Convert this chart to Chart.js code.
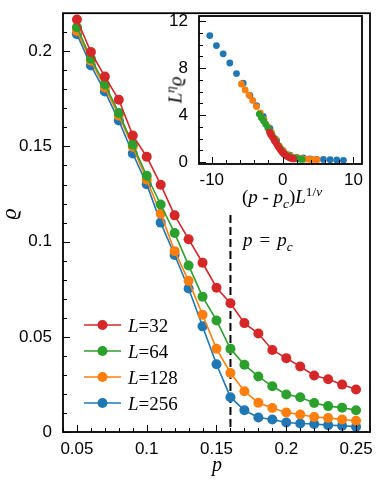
<!DOCTYPE html>
<html>
<head>
<meta charset="utf-8">
<script src="https://cdn.jsdelivr.net/npm/chart.js@4/dist/chart.umd.min.js"></script>
<style>
  html, body { margin: 0; padding: 0; background: #fff; }
  #wrap { position: relative; width: 381px; height: 480px; overflow: hidden; }
  canvas { position: absolute; }
  .lbl {
    position: absolute;
    font-family: "Liberation Serif", serif;
    font-style: italic;
    color: #000;
    white-space: nowrap;
    line-height: 1;
  }
  .lbl .up { font-style: normal; }
  .lbl sub, .lbl sup { font-size: 0.7em; line-height: 0; }
</style>
</head>
<body>
<div id="wrap">
  <canvas id="main" width="381" height="480" style="left:0;top:0"></canvas>
  <canvas id="inset" width="225" height="205" style="left:150px;top:0"></canvas>

  <div class="lbl" id="ylab" style="font-size:22px;left:9px;top:214px;transform:translate(-50%,-50%) rotate(-90deg)">ϱ</div>
  <div class="lbl" id="xlab" style="font-size:20px;left:217px;top:454px;transform:translateX(-50%)">p</div>
  <div class="lbl" id="pclab" style="font-size:19px;left:243px;top:230px">p<span class="up" style="margin:0 7px">=</span>p<sub>c</sub></div>
  <div class="lbl" id="inxlab" style="font-size:19px;left:282px;top:187px;transform:translateX(-50%)"><span class="up">(</span>p<span class="up"> - </span>p<sub>c</sub><span class="up">)</span>L<sup><span class="up">1/</span>ν</sup></div>
  <div class="lbl" id="inylab" style="font-size:19px;left:175px;top:90px;transform:translate(-50%,-50%) rotate(-90deg)">L<sup>η</sup>ϱ</div>
</div>

<script>
// main panel: order parameter vs p for four system sizes
const P = [0.05, 0.06, 0.07, 0.08, 0.09, 0.10, 0.11, 0.12, 0.13, 0.14, 0.15,
           0.16, 0.17, 0.18, 0.19, 0.20, 0.21, 0.22, 0.23, 0.24, 0.25];

const RHO_L32 = [0.2167, 0.1996, 0.1867, 0.1745, 0.1558, 0.1446, 0.1299, 0.1138, 0.1013, 0.0889, 0.0758,
                 0.0676, 0.0572, 0.0517, 0.0431, 0.0388, 0.0344, 0.0297, 0.0277, 0.0249, 0.0223];
const RHO_L64 = [0.2126, 0.1961, 0.1826, 0.1676, 0.1510, 0.1346, 0.1195, 0.1045, 0.0875, 0.0711, 0.0586,
                 0.0437, 0.0353, 0.0292, 0.0240, 0.0197, 0.0183, 0.0152, 0.0136, 0.0128, 0.0114];
const RHO_L128 = [0.2107, 0.1950, 0.1810, 0.1662, 0.1498, 0.1325, 0.1147, 0.0950, 0.0794, 0.0616, 0.0437,
                  0.0310, 0.0214, 0.0154, 0.0126, 0.0102, 0.0092, 0.0079, 0.0074, 0.0066, 0.0059];
const RHO_L256 = [0.2090, 0.1925, 0.1789, 0.1636, 0.1463, 0.1302, 0.1100, 0.0930, 0.0754, 0.0555, 0.0356,
                  0.0183, 0.0114, 0.0076, 0.0066, 0.0050, 0.0045, 0.0042, 0.0036, 0.0033, 0.0028];

const SIZES = ["L=32", "L=64", "L=128", "L=256"];
const COLORS = ["#d62728", "#2ca02c", "#ff7f0e", "#1f77b4"];

const X_TICKS = [0.05, 0.1, 0.15, 0.2, 0.25];
const Y_TICKS = [0, 0.05, 0.1, 0.15, 0.2];
const PC = 0.16;
const PC_LINE_TOP = 0.114;

// inset: scaling collapse, (p - pc) L^(1/nu) vs L^eta rho
const XS_L32 = [-1.86, -1.69, -1.52, -1.35, -1.18, -1.01, -0.84, -0.67, -0.50, -0.32, -0.15,
                0.02, 0.19, 0.36, 0.53, 0.70, 0.87, 1.04, 1.21, 1.39, 1.56];
const YS_L32 = [2.55, 2.35, 2.19, 2.05, 1.83, 1.70, 1.53, 1.34, 1.19, 1.04, 0.89,
                0.79, 0.67, 0.61, 0.51, 0.46, 0.40, 0.35, 0.33, 0.29, 0.26];
const XS_L64 = [-3.30, -3.00, -2.70, -2.39, -2.09, -1.79, -1.48, -1.18, -0.88, -0.58, -0.27,
                0.03, 0.33, 0.64, 0.94, 1.24, 1.55, 1.85, 2.15, 2.45, 2.76];
const YS_L64 = [4.08, 3.77, 3.51, 3.22, 2.90, 2.58, 2.29, 2.01, 1.68, 1.37, 1.13,
                0.84, 0.68, 0.56, 0.46, 0.38, 0.35, 0.29, 0.26, 0.25, 0.22];
const XS_L128 = [-5.82, -5.29, -4.75, -4.22, -3.68, -3.15, -2.62, -2.08, -1.55, -1.01, -0.48,
                 0.05, 0.59, 1.12, 1.66, 2.19, 2.72, 3.26, 3.79, 4.33, 4.86];
const YS_L128 = [6.64, 6.14, 5.70, 5.24, 4.72, 4.17, 3.61, 2.99, 2.50, 1.94, 1.38,
                 0.98, 0.67, 0.49, 0.40, 0.32, 0.29, 0.25, 0.23, 0.21, 0.19];
const XS_L256 = [-10.28, -9.34, -8.39, -7.45, -6.51, -5.56, -4.62, -3.68, -2.73, -1.79, -0.85,
                 0.09, 1.04, 1.98, 2.92, 3.87, 4.81, 5.75, 6.70, 7.64, 8.58];
const YS_L256 = [10.76, 9.91, 9.21, 8.43, 7.53, 6.71, 5.67, 4.79, 3.88, 2.86, 1.83,
                 0.94, 0.59, 0.39, 0.34, 0.26, 0.23, 0.22, 0.19, 0.17, 0.14];

const INSET_X_TICKS = [-10, 0, 10];
const INSET_Y_TICKS = [0, 4, 8, 12];

const TICK_FONT = { family: "'Liberation Sans', Arial, sans-serif", size: 17 };

function fmt(v) {
  return String(+v.toFixed(2));
}

function pairs(xs, ys) {
  return xs.map((x, i) => ({ x: x, y: ys[i] }));
}

// inward ticks + frame, Mathematica style
function drawFrame(chart, opts) {
  const { ctx, chartArea } = chart;
  const xs = chart.scales.x;
  const ys = chart.scales.y;
  ctx.save();
  ctx.strokeStyle = "#000";
  ctx.lineWidth = 1;
  for (let v = opts.xFrom; v <= opts.xTo + 1e-9; v += opts.xMinor) {
    const val = +v.toFixed(4);
    if (val < xs.min || val > xs.max) continue;
    const major = opts.xMajor.some((m) => Math.abs(m - val) < 1e-6);
    const px = Math.round(xs.getPixelForValue(val)) + 0.5;
    ctx.beginPath();
    ctx.moveTo(px, chartArea.bottom);
    ctx.lineTo(px, chartArea.bottom - (major ? 7 : 4));
    ctx.stroke();
  }
  for (let v = opts.yFrom; v <= opts.yTo + 1e-9; v += opts.yMinor) {
    const val = +v.toFixed(4);
    if (val < ys.min || val > ys.max) continue;
    const major = opts.yMajor.some((m) => Math.abs(m - val) < 1e-6);
    const py = Math.round(ys.getPixelForValue(val)) + 0.5;
    ctx.beginPath();
    ctx.moveTo(chartArea.left, py);
    ctx.lineTo(chartArea.left + (major ? 7 : 4), py);
    ctx.stroke();
  }
  ctx.lineWidth = 1.8;
  ctx.strokeRect(chartArea.left, chartArea.top, chartArea.right - chartArea.left, chartArea.bottom - chartArea.top);
  ctx.restore();
}

const mainDecor = {
  id: "mainDecor",
  beforeDatasetsDraw(chart) {
    const { ctx, chartArea } = chart;
    const px = chart.scales.x.getPixelForValue(PC);
    ctx.save();
    ctx.strokeStyle = "#000";
    ctx.lineWidth = 2;
    ctx.setLineDash([8, 4]);
    ctx.beginPath();
    ctx.moveTo(px, chart.scales.y.getPixelForValue(PC_LINE_TOP));
    ctx.lineTo(px, chartArea.bottom);
    ctx.stroke();
    ctx.restore();
  },
  afterDatasetsDraw(chart) {
    drawFrame(chart, {
      xFrom: 0.04, xTo: 0.26, xMinor: 0.01, xMajor: X_TICKS,
      yFrom: 0, yTo: 0.22, yMinor: 0.01, yMajor: Y_TICKS,
    });

    // legend, bottom left inside the frame
    const ctx = chart.ctx;
    const x0 = 84, x1 = 121, y0 = 325, rowH = 26;
    ctx.save();
    chart.data.datasets.forEach((ds, i) => {
      const y = y0 + i * rowH;
      ctx.strokeStyle = ds.borderColor;
      ctx.lineWidth = 1.6;
      ctx.beginPath();
      ctx.moveTo(x0, y);
      ctx.lineTo(x1, y);
      ctx.stroke();
      ctx.fillStyle = ds.backgroundColor;
      ctx.beginPath();
      ctx.arc((x0 + x1) / 2, y, 5, 0, Math.PI * 2);
      ctx.fill();

      const [name, value] = ds.label.split("=");
      ctx.fillStyle = "#000";
      ctx.textBaseline = "alphabetic";
      ctx.font = "italic 19px 'Liberation Serif', serif";
      ctx.fillText(name, 128, y + 6.5);
      const w = ctx.measureText(name).width;
      ctx.font = "19px 'Liberation Serif', serif";
      ctx.fillText("=" + value, 128 + w, y + 6.5);
    });
    ctx.restore();
  },
};

const insetDecor = {
  id: "insetDecor",
  beforeDraw(chart) {
    const { ctx, chartArea } = chart;
    ctx.save();
    ctx.fillStyle = "#fff";
    ctx.fillRect(chartArea.left, chartArea.top, chartArea.right - chartArea.left, chartArea.bottom - chartArea.top);
    ctx.restore();
  },
  afterDatasetsDraw(chart) {
    drawFrame(chart, {
      xFrom: -10, xTo: 10, xMinor: 2, xMajor: INSET_X_TICKS,
      yFrom: 0, yTo: 12, yMinor: 1, yMajor: INSET_Y_TICKS,
    });
  },
};

function axis(min, max, ticks, extra, pad) {
  return Object.assign({
    type: "linear",
    min: min,
    max: max,
    grid: { display: false },
    border: { display: false },
    ticks: { color: "#000", font: TICK_FONT, padding: pad, callback: (v) => fmt(v) },
    afterBuildTicks: (s) => { s.ticks = ticks.map((v) => ({ value: v })); },
  }, extra);
}

Chart.defaults.animation = false;

const mainSeries = [RHO_L32, RHO_L64, RHO_L128, RHO_L256];

new Chart(document.getElementById("main"), {
  type: "line",
  data: {
    datasets: mainSeries.map((rho, i) => ({
      label: SIZES[i],
      data: pairs(P, rho),
      borderColor: COLORS[i],
      backgroundColor: COLORS[i],
      borderWidth: 1.6,
      pointRadius: 5,
      pointBorderWidth: 0,
      pointHoverRadius: 5,
      tension: 0,
    })),
  },
  options: {
    responsive: false,
    devicePixelRatio: 1,
    layout: { padding: { top: 8, right: 11, left: 0, bottom: 0 } },
    plugins: { legend: { display: false }, tooltip: { enabled: false } },
    scales: {
      x: axis(0.04, 0.26, X_TICKS, { afterFit: (s) => { s.height = 48; } }, -1),
      y: axis(0, 0.22, Y_TICKS, { afterFit: (s) => { s.width = 63; } }, 3),
    },
  },
  plugins: [mainDecor],
});

const insetX = [XS_L32, XS_L64, XS_L128, XS_L256];
const insetY = [YS_L32, YS_L64, YS_L128, YS_L256];

new Chart(document.getElementById("inset"), {
  type: "scatter",
  data: {
    datasets: insetX.map((xs, i) => ({
      label: SIZES[i],
      data: pairs(xs, insetY[i]),
      backgroundColor: COLORS[i],
      borderWidth: 0,
      pointRadius: 3.4,
      pointHoverRadius: 3.4,
    })),
  },
  options: {
    responsive: false,
    devicePixelRatio: 1,
    layout: { padding: { top: 16, right: 13, left: 0, bottom: 0 } },
    plugins: { legend: { display: false }, tooltip: { enabled: false } },
    scales: {
      x: axis(-11.8, 11.2, INSET_X_TICKS, { afterFit: (s) => { s.height = 41; } }, -2),
      y: axis(-0.17, 12.43, INSET_Y_TICKS, { afterFit: (s) => { s.width = 49; } }, 3),
    },
  },
  plugins: [insetDecor],
});
</script>
</body>
</html>
